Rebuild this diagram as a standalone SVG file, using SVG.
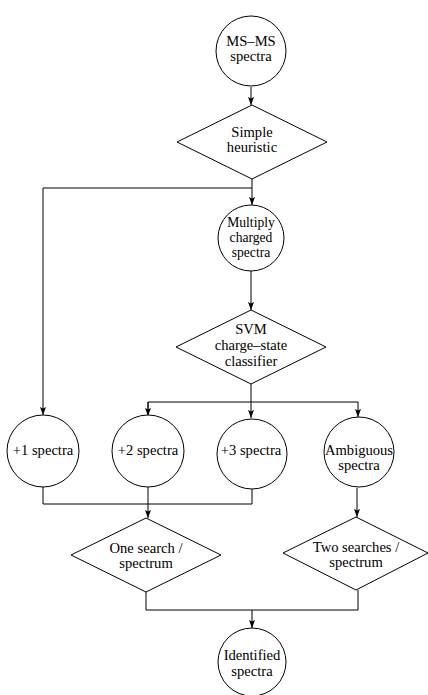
<svg xmlns="http://www.w3.org/2000/svg" width="428" height="695" viewBox="0 0 428 695">
<style>
.n{fill:#fff;stroke:#000;stroke-width:1}
.t{font-family:"Liberation Serif","Times New Roman",serif;font-size:14.6px;fill:#000;text-anchor:middle}
.s{font-size:13.6px}
.c{fill:none;stroke:#000;stroke-width:1}
</style>
<defs>
<marker id="ah" markerWidth="9" markerHeight="6" refX="8" refY="3" orient="auto" markerUnits="userSpaceOnUse">
<path d="M0,0 L8,3 L0,6 L1.5,3 z" fill="#000"/>
</marker>
</defs>
<rect width="428" height="695" fill="#fff"/>
<g id="connectors">
<path class="c" d="M251,87 V105" marker-end="url(#ah)"/>
<path class="c" d="M252,179 V205" marker-end="url(#ah)"/>
<path class="c" d="M252,188 H43 V415" marker-end="url(#ah)"/>
<path class="c" d="M251,271 V310" marker-end="url(#ah)"/>
<path class="c" d="M251,384 V418" marker-end="url(#ah)"/>
<path class="c" d="M148,416 V402 H358 V417" marker-end="url(#ah)"/>
<path class="c" d="M148,402 V416" marker-end="url(#ah)"/>
<path class="c" d="M43,487 V504 H252 V489"/>
<path class="c" d="M148,487 V518" marker-end="url(#ah)"/>
<path class="c" d="M357,488 V517" marker-end="url(#ah)"/>
<path class="c" d="M146,592 V610 H358 V590"/>
<path class="c" d="M252,610 V628" marker-end="url(#ah)"/>
</g>
<g id="ms-ms">
<circle class="n" cx="251" cy="51" r="35"/>
<text class="t" x="251" y="46">MS–MS</text>
<text class="t" x="251" y="61">spectra</text>
</g>
<g id="simple-heuristic">
<polygon class="n" points="252,105 327,142 252,179 177,142"/>
<text class="t" x="252" y="137">Simple</text>
<text class="t" x="252" y="152">heuristic</text>
</g>
<g id="multiply">
<circle class="n" cx="251" cy="238" r="33"/>
<text class="t s" x="251" y="227">Multiply</text>
<text class="t s" x="251" y="242">charged</text>
<text class="t s" x="251" y="257">spectra</text>
</g>
<g id="svm">
<polygon class="n" points="251,310 326,347 251,384 176,347"/>
<text class="t" x="251" y="334">SVM</text>
<text class="t" x="251" y="350">charge–state</text>
<text class="t" x="251" y="366">classifier</text>
</g>
<g id="plus1">
<circle class="n" cx="43" cy="451" r="36"/>
<text class="t" x="43" y="455">+1 spectra</text>
</g>
<g id="plus2">
<circle class="n" cx="148" cy="451" r="36"/>
<text class="t" x="148" y="455">+2 spectra</text>
</g>
<g id="plus3">
<circle class="n" cx="252" cy="454" r="35"/>
<text class="t" x="251" y="455">+3 spectra</text>
</g>
<g id="ambiguous">
<circle class="n" cx="359" cy="452" r="35"/>
<text class="t" x="359" y="455">Ambiguous</text>
<text class="t" x="359" y="470">spectra</text>
</g>
<g id="one-search">
<polygon class="n" points="146,518 221,555 146,592 71,555"/>
<text class="t" x="146" y="553">One search /</text>
<text class="t" x="146" y="568">spectrum</text>
</g>
<g id="two-searches">
<polygon class="n" points="356,517 428,553 356,590 283,553"/>
<text class="t" x="356" y="552">Two searches /</text>
<text class="t" x="356" y="567">spectrum</text>
</g>
<g id="identified">
<circle class="n" cx="252" cy="662" r="34"/>
<text class="t" x="252" y="660">Identified</text>
<text class="t" x="252" y="676">spectra</text>
</g>
</svg>
